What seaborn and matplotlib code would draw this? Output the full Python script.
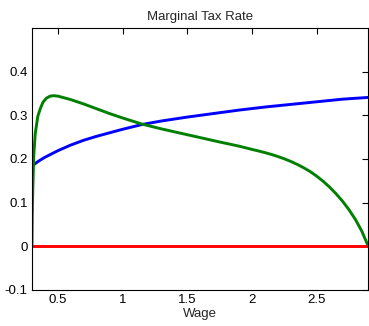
import matplotlib
matplotlib.use("Agg")
import matplotlib.pyplot as plt
import seaborn as sns

sns.set_style("white")
plt.rcParams['font.family'] = ['Liberation Sans', 'DejaVu Sans']

# Data
wage_blue = [0.30, 0.35, 0.40, 0.50, 0.60, 0.70, 0.80, 0.90, 1.00, 1.15, 1.30,
             1.50, 1.70, 1.90, 2.10, 2.30, 2.50, 2.70, 2.90]
rate_blue = [0.184, 0.195, 0.204, 0.219, 0.232, 0.243, 0.252, 0.260, 0.268, 0.279, 0.287,
             0.296, 0.304, 0.312, 0.319, 0.325, 0.331, 0.337, 0.341]

wage_green = [0.300, 0.302, 0.306, 0.313, 0.325, 0.345, 0.365, 0.385, 0.41, 0.44, 0.47,
              0.50, 0.55, 0.60, 0.70, 0.80, 0.90, 1.00, 1.15, 1.30, 1.45, 1.60, 1.75,
              1.90, 2.00, 2.05, 2.10, 2.15, 2.20, 2.25, 2.30, 2.35, 2.40, 2.45, 2.50,
              2.55, 2.60, 2.65, 2.70, 2.75, 2.80, 2.85, 2.90]
rate_green = [0.0, 0.07, 0.13, 0.205, 0.258, 0.298, 0.316, 0.330, 0.339, 0.344, 0.345,
              0.344, 0.340, 0.336, 0.326, 0.315, 0.304, 0.294, 0.280, 0.269, 0.259, 0.249, 0.239,
              0.2295, 0.2220, 0.2185, 0.2147, 0.2105, 0.2058, 0.2005, 0.1945, 0.1877, 0.1800,
              0.1713, 0.1610, 0.1492, 0.1358, 0.1206, 0.1036, 0.0841, 0.0616, 0.0346, 0.0]

wage_red = [0.30, 2.90]
rate_red = [0.0, 0.0]

x_ticks = [0.5, 1, 1.5, 2, 2.5]
x_tick_labels = ["0.5", "1", "1.5", "2", "2.5"]
y_ticks = [-0.1, 0, 0.1, 0.2, 0.3, 0.4]
y_tick_labels = ["-0.1", "0", "0.1", "0.2", "0.3", "0.4"]

fig = plt.figure(figsize=(3.69, 3.26), dpi=100)
ax = fig.add_axes([32/369, 1-290/326, (368.3-32)/369, (290-28)/326])

lw = 2.1
sns.lineplot(x=wage_blue, y=rate_blue, color=(0, 0, 1), linewidth=lw, ax=ax, sort=False)
sns.lineplot(x=wage_green, y=rate_green, color=(0, 0.5, 0), linewidth=lw, ax=ax, sort=False)
sns.lineplot(x=wage_red, y=rate_red, color=(1, 0, 0), linewidth=lw, ax=ax, sort=False)

ax.set_xlim(0.3, 2.9)
ax.set_ylim(-0.1, 0.5)
ax.set_xticks(x_ticks)
ax.set_xticklabels(x_tick_labels)
ax.set_yticks(y_ticks)
ax.set_yticklabels(y_tick_labels)

for s in ax.spines.values():
    s.set_visible(True)
    s.set_color('black')
    s.set_linewidth(0.8)

ax.tick_params(direction='in', length=4, width=0.8, top=True, right=True,
               labelsize=9.5, colors='black', pad=3)
ax.set_xlabel("Wage", fontsize=9.5, labelpad=1)
ax.set_title("Marginal Tax Rate", fontsize=9.5, pad=6)

fig.savefig("out.png", dpi=100)
